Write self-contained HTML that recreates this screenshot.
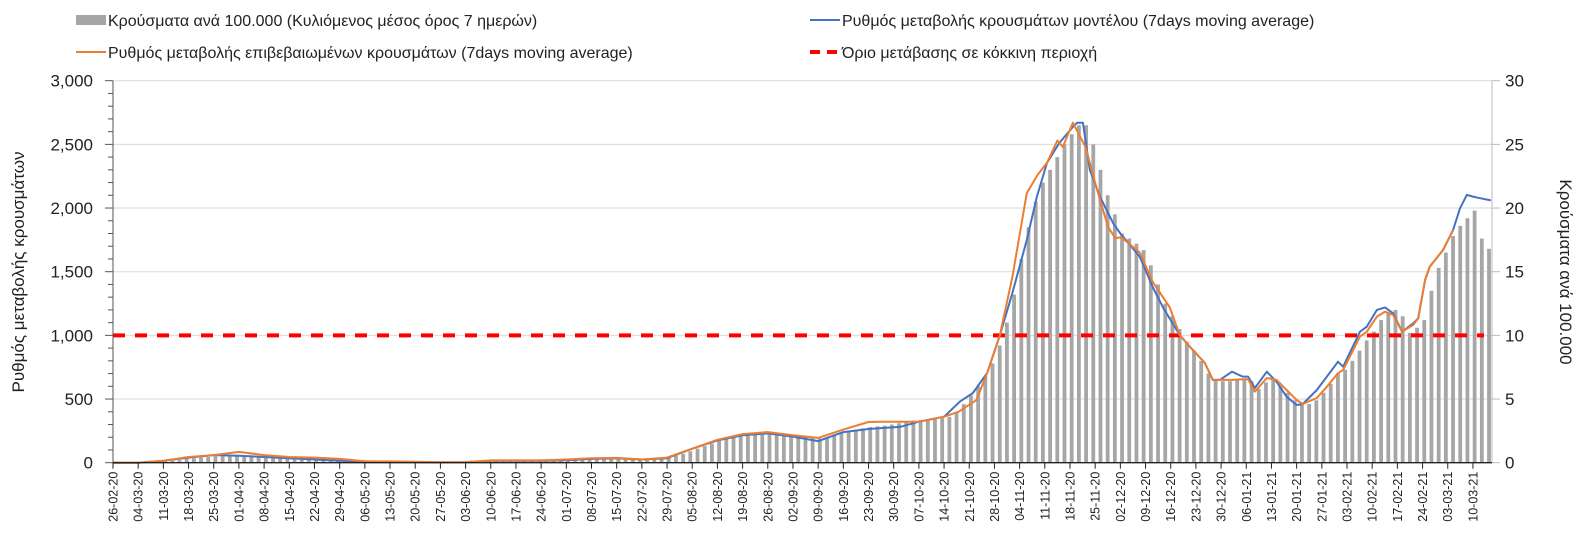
<!DOCTYPE html>
<html><head><meta charset="utf-8">
<style>
html,body{margin:0;padding:0;background:#fff;}
body{width:1588px;height:553px;overflow:hidden;font-family:"Liberation Sans",sans-serif;}
svg text{font-family:"Liberation Sans",sans-serif;}
</style></head>
<body>
<svg id="chart" width="1588" height="553" viewBox="0 0 1588 553" xmlns="http://www.w3.org/2000/svg">
  <g id="legend">
    <g>
      <rect x="76" y="15" width="30" height="10" fill="#a6a6a6"/>
      <text x="108" y="26" font-size="16" fill="#222">Κρούσματα ανά 100.000 (Κυλιόμενος μέσος όρος 7 ημερών)</text>
    </g>
    <g>
      <line x1="76" y1="52" x2="106" y2="52" stroke="#ed7d31" stroke-width="2"/>
      <text x="108" y="58" font-size="16" fill="#222">Ρυθμός μεταβολής επιβεβαιωμένων κρουσμάτων (7days moving average)</text>
    </g>
    <g>
      <line x1="810" y1="20" x2="840" y2="20" stroke="#4472c4" stroke-width="2"/>
      <text x="842" y="26" font-size="16" fill="#222">Ρυθμός μεταβολής κρουσμάτων μοντέλου (7days moving average)</text>
    </g>
    <g>
      <line x1="810" y1="52" x2="840" y2="52" stroke="#ff0000" stroke-width="4" stroke-dasharray="10,7"/>
      <text x="842" y="58" font-size="16" fill="#222">Όριο μετάβασης σε κόκκινη περιοχή</text>
    </g>
  </g>
  <g id="grid"></g>
  <g id="bars"></g>
  <g id="lines"></g>
  <g id="axes"></g>
  <text transform="translate(24,272) rotate(-90)" text-anchor="middle" font-size="17" fill="#222">Ρυθμός μεταβολής κρουσμάτων</text>
  <text transform="translate(1560,272) rotate(90)" text-anchor="middle" font-size="17" fill="#222">Κρούσματα ανά 100.000</text>
</svg>
<script>
const tickLabels = ["26-02-20","04-03-20","11-03-20","18-03-20","25-03-20","01-04-20","08-04-20","15-04-20","22-04-20","29-04-20","06-05-20","13-05-20","20-05-20","27-05-20","03-06-20","10-06-20","17-06-20","24-06-20","01-07-20","08-07-20","15-07-20","22-07-20","29-07-20","05-08-20","12-08-20","19-08-20","26-08-20","02-09-20","09-09-20","16-09-20","23-09-20","30-09-20","07-10-20","14-10-20","21-10-20","28-10-20","04-11-20","11-11-20","18-11-20","25-11-20","02-12-20","09-12-20","16-12-20","23-12-20","30-12-20","06-01-21","13-01-21","20-01-21","27-01-21","03-02-21","10-02-21","17-02-21","24-02-21","03-03-21","10-03-21"];
const leftTicks = [0,500,1000,1500,2000,2500,3000];
const leftTickLabels = ["0","500","1,000","1,500","2,000","2,500","3,000"];
const rightTickLabels = ["0","5","10","15","20","25","30"];
const threshold = 1000;
// cases per 100k, one value every 2 days starting day 0
const barValues = [0,0,0,0,0,0,
0.05,0.1,0.15,0.2,0.3, 0.35,0.4,0.45,0.5,0.5, 0.55,0.55,0.55,0.55,0.5, 0.45,0.45,0.4,0.35,0.3,
0.3,0.25,0.25,0.25,0.2, 0.2,0.15,0.12,0.1,0.1, 0.08,0.08,0.07,0.06,0.06, 0.05,0.05,0.04,0.04,0.03,
0.03,0.03,0.04,0.05,0.08, 0.1,0.12,0.14,0.15,0.15, 0.15,0.15,0.15,0.15,0.16, 0.18,0.2,0.22,0.25,0.28,
0.3,0.32,0.33,0.34,0.34, 0.32,0.28,0.25,0.25,0.28, 0.32,0.4,0.55,0.7,0.9, 1.1,1.3,1.5,1.7,1.9,
2.0,2.1,2.15,2.2,2.2, 2.25,2.2,2.15,2.1,2.05, 2.0,1.95,1.9,2.0,2.2, 2.4,2.5,2.6,2.7,2.8,
2.85,2.9,3.0,3.1,3.2, 3.3,3.35,3.4,3.45,3.5, 3.6,4.0,4.6,5.3,6.0, 6.8,7.8,9.2,11.0,13.2,
16.0,18.5,20.5,22.0,23.0, 24.0,25.0,25.8,26.5,26.5, 25.0,23.0,21.0,19.5,18.0, 17.6,17.2,16.7,15.5,14.0,
12.5,11.5,10.5,9.5,8.8, 8.0,7.0,6.5,6.4,6.4, 6.5,6.5,6.4,5.8,6.3, 6.6,6.0,5.5,4.9,4.6,
4.6,4.9,5.5,6.2,7.0, 7.3,8.0,8.8,9.6,10.3, 11.2,11.8,12.0,11.5,10.2, 10.6,11.2,13.5,15.3,16.5,
17.8,18.6,19.2,19.8,17.6, 16.8];
const blueDays = [0,7,14,21,28,35,42,49,56,63,70,77,84,91,98,105,112,119,126,133,140,147,154,161,168,175,182,189,196,203,210,213,219,224,231,235.4,239,243,246.5,250,254,256.8,259.6,263,266.8,268,269.6,271.5,274.3,278,280,285.4,289,291.8,296.5,299.3,303.5,305.7,307.7,311,314,315.5,317.4,320.7,323.4,326.2,329,330.7,334.6,337.4,340.5,341.9,346.6,348.5,351.3,353.6,355.8,358.3,361.4,362.8,364.7,366,369.7,372.5,374.4,376.3,378,380,383];
const blueValues = [0,0,15,40,60,55,45,35,25,15,10,8,5,3,5,15,15,15,20,30,35,25,35,110,175,215,230,205,170,240,265,270,283,322,361,480,547,705,1000,1333,1750,2090,2355,2510,2637,2670,2670,2300,2090,1880,1800,1618,1380,1222,1003,911,783,650,650,715,676,676,587,715,636,518,453,461,571,676,793,754,1029,1068,1200,1220,1173,1029,1095,1134,1435,1540,1671,1828,1998,2103,2090,2077,2060];
const orangeDays = [0,7,14,21,28,35,42,49,56,63,70,77,84,91,98,105,112,119,126,133,140,147,154,161,168,175,182,189,196,203,210,213,224,231,235,240,243,246.5,250,254,257,259.6,262.5,264,266.8,270.3,273,276.6,278.6,280.3,285.4,289,293.7,296.5,299.3,303.5,305.7,311,314,315.5,317.4,320.7,323.4,326.2,329,330.7,334.6,337.4,340.5,341.9,346.6,348.5,351.3,353.6,355.8,358.3,361.4,362.8,364.7,366,369.7,372.5];
const orangeValues = [0,0,15,45,60,85,60,45,40,30,12,10,8,3,5,18,18,18,25,35,38,25,40,110,180,225,240,215,195,260,320,322,322,361,400,492,705,1000,1460,2117,2260,2355,2530,2480,2670,2480,2195,1850,1764,1770,1650,1420,1222,1003,911,783,650,650,655,655,558,665,650,571,493,461,508,597,704,728,990,1029,1147,1187,1160,1029,1082,1134,1435,1540,1671,1828];

const NS = "http://www.w3.org/2000/svg";
const X0 = 113, X1 = 1492, Y0 = 462.7, Ytop = 80.7, NDAYS = 383.3;
const xDay = d => X0 + d * (X1 - X0) / NDAYS;
const yL = v => Y0 - v * (Y0 - Ytop) / 3000;
const yR = v => Y0 - v * (Y0 - Ytop) / 30;
function mk(tag, attrs, parent) {
  const e = document.createElementNS(NS, tag);
  for (const k in attrs) e.setAttribute(k, attrs[k]);
  parent.appendChild(e);
  return e;
}
const grid = document.getElementById('grid');
const axes = document.getElementById('axes');
const bars = document.getElementById('bars');
const lines = document.getElementById('lines');

leftTicks.forEach((v, i) => {
  if (i > 0) {
    const g = mk('line', {x1: X0, x2: X1, y1: yL(v), y2: yL(v), stroke: '#d9d9d9', 'stroke-width': 1}, grid);
    
    
  }
  const t = mk('text', {x: 93, y: yL(v) + 6, 'text-anchor': 'end', 'font-size': 17, fill: '#222'}, axes);
  t.textContent = leftTickLabels[i];
  
  
  const r = mk('text', {x: 1505, y: yL(v) + 6, 'text-anchor': 'start', 'font-size': 17, fill: '#222'}, axes);
  r.textContent = rightTickLabels[i];
  
  
});
for (let v = 0; v <= 3000; v += 100) {
  const len = (v % 500 === 0) ? 8 : 5;
  mk('line', {x1: X0 - len, x2: X0, y1: yL(v), y2: yL(v), stroke: '#555', 'stroke-width': 1}, axes);
}
leftTicks.forEach(v => mk('line', {x1: X1, x2: X1 + 8, y1: yL(v), y2: yL(v), stroke: '#bbb', 'stroke-width': 1}, axes));

barValues.forEach((v, i) => {
  const d = i * 2;
  const x = xDay(d + 0.5);
  const b = mk('rect', {x: x - 2, y: yR(v), width: 3.8, height: Math.max(0, Y0 - yR(v)), fill: '#a6a6a6'}, bars);
  
  
});

function path(days, vals) {
  return days.map((d, i) => (i ? 'L' : 'M') + xDay(d).toFixed(1) + ',' + yL(vals[i]).toFixed(1)).join(' ');
}
const th = mk('line', {x1: X0, x2: X1 - 8, y1: yL(threshold), y2: yL(threshold), stroke: '#ff0000', 'stroke-width': 4, 'stroke-dasharray': '12,10'}, lines);


const bl = mk('path', {d: path(blueDays, blueValues), fill: 'none', stroke: '#4472c4', 'stroke-width': 2, 'stroke-linejoin': 'round'}, lines);


const or = mk('path', {d: path(orangeDays, orangeValues), fill: 'none', stroke: '#ed7d31', 'stroke-width': 2, 'stroke-linejoin': 'round'}, lines);



// axes lines
const la = mk('line', {x1: X0, x2: X0, y1: Ytop, y2: Y0, stroke: '#555', 'stroke-width': 1}, axes);


const ra = mk('line', {x1: X1, x2: X1, y1: Ytop, y2: Y0, stroke: '#bbb', 'stroke-width': 1}, axes);


const xa = mk('line', {x1: X0, x2: X1, y1: Y0, y2: Y0, stroke: '#222', 'stroke-width': 1.3}, axes);


tickLabels.forEach((lab, i) => {
  const x = xDay(i * 7);
  mk('line', {x1: x, x2: x, y1: Y0, y2: Y0 + 6, stroke: '#222', 'stroke-width': 1}, axes);
  const t = mk('text', {transform: 'translate(' + (x + 4.5).toFixed(1) + ',' + (Y0 + 9) + ') rotate(-90)', 'text-anchor': 'end', 'font-size': 12.5, fill: '#222'}, axes);
  t.textContent = lab;
  
  
});
</script>
</body></html>
